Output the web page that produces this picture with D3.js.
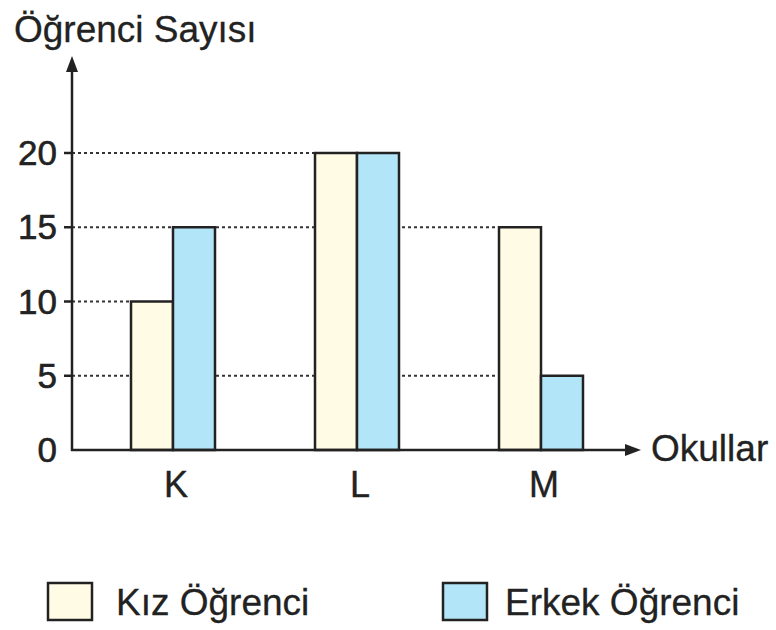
<!DOCTYPE html>
<html><head><meta charset="utf-8">
<script src="https://cdn.jsdelivr.net/npm/d3@7"></script>
<style>html,body{margin:0;padding:0;background:#fff;}svg{display:block;}</style>
</head><body>
<svg id="chart" width="776" height="630"></svg>
<script>
const categories = ["K", "L", "M"];
const series = ["Kız Öğrenci", "Erkek Öğrenci"];
const kizValues = [10, 20, 15];
const erkekValues = [15, 20, 5];
const yTicks = [0, 5, 10, 15, 20];
const gridValues = [20, 15, 10, 5];
const gridReach = ["L", "M", "K", "M"];
const yTitle = "Öğrenci Sayısı";
const xTitle = "Okullar";
const colors = ["#fffbe4", "#b3e5f8"];

const font = "'Liberation Sans', Arial, Helvetica, sans-serif";
const ink = "#222";
const svg = d3.select("#chart");

const axisX = 72, baseY = 450;
const y = d3.scaleLinear().domain([0, 20]).range([baseY, 153]);
const x0 = d3.scalePoint().domain(categories).range([173, 541]);
const x1 = d3.scaleBand().domain(series).range([-42, 42]);

const data = categories.map((c, i) => ({cat: c, vals: [kizValues[i], erkekValues[i]]}));

// dotted grid lines
svg.append("g").selectAll("line").data(gridValues).join("line")
  .attr("x1", axisX).attr("x2", (d, i) => x0(gridReach[i]) + x1(series[0]))
  .attr("y1", d => y(d)).attr("y2", d => y(d))
  .attr("stroke", "#333").attr("stroke-width", 2).attr("stroke-dasharray", "3,3");

// bars
const g = svg.append("g").selectAll("g").data(data).join("g")
  .attr("transform", d => `translate(${x0(d.cat)},0)`);
g.selectAll("rect").data(d => d.vals.map((v, j) => ({v, j}))).join("rect")
  .attr("x", d => x1(series[d.j]))
  .attr("width", x1.bandwidth())
  .attr("y", d => y(d.v))
  .attr("height", d => y(0) - y(d.v))
  .attr("fill", d => colors[d.j])
  .attr("stroke", ink).attr("stroke-width", 2.5);

// axes
svg.append("line").attr("x1", axisX).attr("x2", axisX).attr("y1", baseY + 1).attr("y2", 70)
  .attr("stroke", ink).attr("stroke-width", 2.5);
svg.append("path").attr("d", `M${axisX},56 L${axisX - 6},72 L${axisX + 6},72 Z`).attr("fill", ink);
svg.append("line").attr("x1", axisX - 1).attr("x2", 628).attr("y1", baseY).attr("y2", baseY)
  .attr("stroke", ink).attr("stroke-width", 2.5);
svg.append("path").attr("d", `M641,${baseY} L625,${baseY - 6} L625,${baseY + 6} Z`).attr("fill", ink);

// y ticks
svg.append("g").selectAll("line").data(yTicks.filter(d => d > 0)).join("line")
  .attr("x1", axisX - 8).attr("x2", axisX).attr("y1", d => y(d)).attr("y2", d => y(d))
  .attr("stroke", ink).attr("stroke-width", 2.5);
svg.append("g").selectAll("text").data(yTicks).join("text")
  .attr("x", 57).attr("y", d => y(d) + 12)
  .attr("text-anchor", "end").attr("font-family", font).attr("font-size", 35)
  .attr("fill", ink).attr("stroke", ink).attr("stroke-width", 0.6).text(d => d);

// category labels
svg.append("g").selectAll("text").data(categories).join("text")
  .attr("x", d => x0(d) + 3).attr("y", 497)
  .attr("text-anchor", "middle").attr("font-family", font).attr("font-size", 36)
  .attr("fill", ink).attr("stroke", ink).attr("stroke-width", 0.4).text(d => d);

// titles
svg.append("text").attr("x", 14).attr("y", 42).attr("font-family", font).attr("font-size", 37)
  .attr("fill", ink).attr("stroke", ink).attr("stroke-width", 0.3).text(yTitle);
svg.append("text").attr("x", 651).attr("y", 461).attr("font-family", font).attr("font-size", 37)
  .attr("fill", ink).attr("stroke", ink).attr("stroke-width", 0.3).text(xTitle);

// legend
const legendX = [48, 443];
const lg = svg.append("g").selectAll("g").data(series).join("g")
  .attr("transform", (d, i) => `translate(${legendX[i]},583)`);
lg.append("rect").attr("width", 44).attr("height", 37)
  .attr("fill", (d, i) => colors[i]).attr("stroke", ink).attr("stroke-width", 2.5);
lg.append("text").attr("x", (d, i) => i === 0 ? 68 : 62).attr("y", 32)
  .attr("font-family", font).attr("font-size", 37).attr("fill", ink)
  .attr("stroke", ink).attr("stroke-width", 0.3).text(d => d);
</script>
</body></html>
